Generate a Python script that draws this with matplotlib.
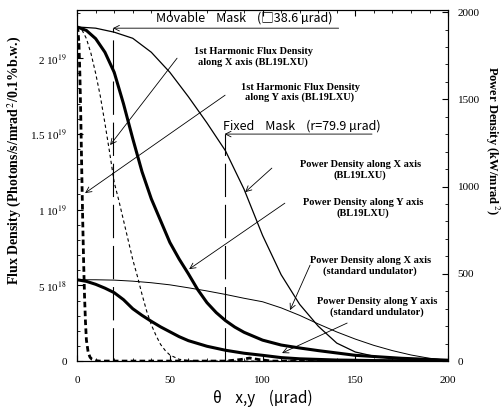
import numpy as np
import matplotlib
matplotlib.use("Agg")
import matplotlib.pyplot as plt
from matplotlib.ticker import MultipleLocator

plt.rcParams['font.family'] = ['Liberation Serif', 'DejaVu Serif']
plt.rcParams['mathtext.fontset'] = 'stix'

# flux density, 1st harmonic (x1e18 photons/s/mrad^2/0.1%b.w.)
theta_fx = [0, 2.5, 5, 7.5, 10, 12.5, 15, 17.5, 20, 22.5, 25, 27.5, 30, 32.5, 35, 37.5, 40,
            42.5, 45, 47.5, 50, 55, 60, 65, 200]
flux_x = [22.1, 21.9, 21.3, 20.3, 19.0, 17.5, 15.7, 13.8, 11.8, 10.6, 9.3, 8.0, 6.7, 5.6, 4.4, 3.3, 2.4,
          1.7, 1.1, 0.7, 0.4, 0.12, 0.03, 0.0, 0.0]
theta_fy = [0, 0.5, 1.0, 1.5, 2.0, 2.5, 3.0, 3.5, 4.0, 4.5, 5.0, 6, 7, 8, 10, 12, 80, 88, 93, 98, 105, 200]
flux_y = [22.1, 21.8, 20.9, 18.9, 16.0, 12.6, 9.4, 6.6, 4.3, 2.6, 1.4, 0.55, 0.25, 0.12, 0.03, 0.0,
          0.0, 0.1, 0.2, 0.1, 0.0, 0.0]

# power density (kW/mrad^2)
theta_px = [0, 10, 20, 30, 40, 50, 60, 70, 80, 90, 100, 110, 120, 130, 140, 150, 160, 170, 180, 200]
power_x = [1915, 1908, 1885, 1850, 1770, 1655, 1515, 1365, 1205, 985, 720, 495, 325, 200, 103, 52,
           28, 15, 7, 1]
theta_py = [0, 5, 10, 15, 20, 25, 30, 35, 40, 45, 50, 55, 60, 65, 70, 75, 80, 85, 90, 100, 110, 120,
            130, 150, 175, 200]
power_y = [1915, 1895, 1848, 1770, 1655, 1475, 1275, 1085, 930, 805, 680, 585, 500, 410, 335, 278,
           232, 195, 165, 120, 92, 75, 60, 33, 16, 5]
theta_sx = [0, 10, 20, 30, 40, 50, 60, 70, 80, 90, 100, 110, 120, 130, 140, 150, 160, 170, 180, 190, 200]
power_std_x = [466, 466, 464, 458, 449, 437, 420, 402, 382, 360, 340, 305, 262, 213, 167, 126, 90,
               60, 35, 16, 4]
theta_sy = [0, 5, 10, 15, 20, 25, 30, 35, 40, 45, 50, 55, 60, 70, 80, 90, 100, 110, 120, 140, 160, 200]
power_std_y = [466, 457, 440, 418, 392, 352, 300, 262, 228, 196, 168, 140, 117, 85, 62, 45, 33, 20,
               13, 6, 3, 0]

movable_mask = 19.3
fixed_mask = 79.5

fig = plt.figure(figsize=(5.04, 4.08), dpi=100)
ax = fig.add_axes([0.153, 0.115, 0.736, 0.86])
ax2 = ax.twinx()

ax.plot(theta_fx, np.array(flux_x) * 1e18, color='k', lw=0.8, ls=(0, (3, 2.5)))
ax.plot(theta_fy, np.array(flux_y) * 1e18, color='k', lw=2.0, ls=(0, (2, 1.2)))
ax2.plot(theta_px, power_x, color='k', lw=0.9)
ax2.plot(theta_py, power_y, color='k', lw=2.2)
ax2.plot(theta_sx, power_std_x, color='k', lw=0.7)
ax2.plot(theta_sy, power_std_y, color='k', lw=2.2)

ax2.vlines(movable_mask, 0, 1908, color='k', lw=0.8, ls=(0, (30, 7)))
ax2.vlines(fixed_mask, 0, 1301, color='k', lw=0.8, ls=(0, (30, 7)))

ax.set_xlim(0, 200)
ax.set_ylim(0, 2.317e19)
ax2.set_ylim(0, 2011)

ax.set_xticks([0, 50, 100, 150, 200])
ax.xaxis.set_minor_locator(MultipleLocator(10))
ax.set_yticks([0, 5e18, 1e19, 1.5e19, 2e19])
ax.set_yticklabels(['0', r'5 10$^{18}$', r'1 10$^{19}$', r'1.5 10$^{19}$', r'2 10$^{19}$'])
ax.yaxis.set_minor_locator(MultipleLocator(1e18))
ax2.set_yticks([0, 500, 1000, 1500, 2000])
ax2.yaxis.set_minor_locator(MultipleLocator(100))
ax.tick_params(which='both', direction='in', top=True, labelsize=8)
ax.tick_params(axis='x', pad=11)
ax.tick_params(axis='y', pad=7)
ax.tick_params(which='major', length=4)
ax.tick_params(which='minor', length=2)
ax2.tick_params(which='both', direction='in', labelsize=8, pad=7)
ax2.tick_params(which='major', length=4)
ax2.tick_params(which='minor', length=2)

sans = ['Noto Sans CJK JP', 'DejaVu Sans']
ax.set_ylabel('Flux Density (Photons/s/mrad$^{\\,2}$/0.1%b.w.)', fontsize=10, fontweight='bold')
ax.yaxis.set_label_coords(-0.142, 0.573)
ax2.set_ylabel('Power Density (kW/mrad$^{\\,2}$)', fontsize=9, fontweight='bold', rotation=-90, va='center')
ax2.yaxis.set_label_coords(1.118, 0.63)
ax.set_xlabel('θ    x,y    (µrad)', fontsize=11, family=sans, labelpad=3)

arr = dict(arrowstyle='->', color='k', lw=0.6, shrinkA=0, shrinkB=0)

# mask labels with underline arrows
ax2.text(90, 1965, 'Movable    Mask    (□38.6 µrad)', fontsize=9, family=sans, ha='center', va='center')
ax2.annotate('', xy=(movable_mask, 1908), xytext=(141, 1908), arrowprops=arr)
ax2.text(121, 1347, 'Fixed    Mask    (r=79.9 µrad)', fontsize=9, family=sans, ha='center', va='center')
ax2.annotate('', xy=(fixed_mask, 1301), xytext=(159, 1301), arrowprops=arr)

labels = [
    ('1st Harmonic Flux Density\nalong X axis (BL19LXU)', (94.9, 1742), (53.9, 1736), (17.8, 1238)),
    ('1st Harmonic Flux Density\nalong Y axis (BL19LXU)', (120.2, 1541), (79.8, 1524), (4.3, 963)),
    ('Power Density along X axis\n(BL19LXU)', (152.6, 1095), (105, 1106), (90.6, 968)),
    ('Power Density along Y axis\n(BL19LXU)', (154.2, 877), (112, 905), (60.4, 527)),
    ('Power Density along X axis\n(standard undulator)', (158, 544), (125.6, 550), (114.8, 292)),
    ('Power Density along Y axis\n(standard undulator)', (161.7, 309), (145.6, 218), (110.5, 46)),
]
for txt, pos, start, end in labels:
    ax2.text(pos[0], pos[1], txt, fontsize=7.5, fontweight='bold', ha='center', va='center', linespacing=1.1)
    ax2.annotate('', xy=end, xytext=start, arrowprops=arr)

fig.savefig('out.png', dpi=100)
